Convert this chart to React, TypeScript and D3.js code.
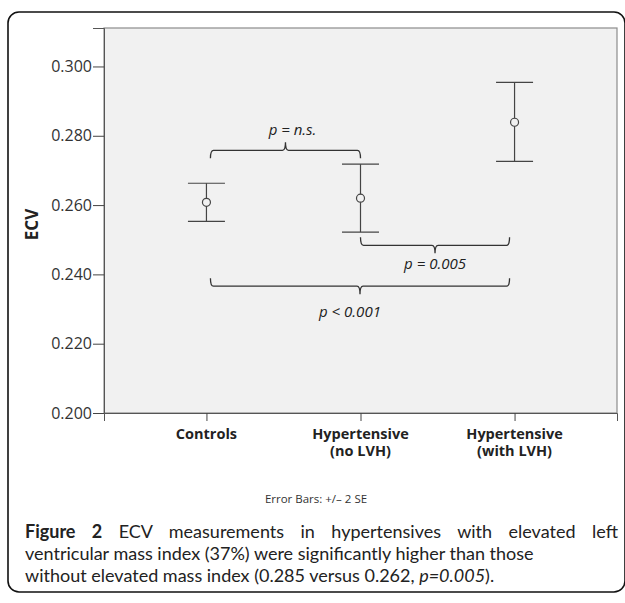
import React, { useEffect, useRef } from 'react';
import * as d3 from 'd3';

// groups on the x axis (label lines)
const categories = ['Controls', 'Hypertensive (no LVH)', 'Hypertensive (with LVH)'];
const categoryLines = [['Controls'], ['Hypertensive', '(no LVH)'], ['Hypertensive', '(with LVH)']];

// mean ECV and +/- 2 SE limits
const means = [0.2608, 0.262, 0.2839];
const lower = [0.2553, 0.2522, 0.2726];
const upper = [0.2663, 0.2718, 0.2954];

const yTicks = [0.2, 0.22, 0.24, 0.26, 0.28, 0.3];

// significance brackets: from group, to group, level (ECV units), label, ends hanging down?
const bracketFrom = [0, 1, 0];
const bracketTo = [1, 2, 2];
const bracketLevel = [0.2758, 0.2484, 0.2366];
const bracketLabel = ['p = n.s.', 'p = 0.005', 'p < 0.001'];
const bracketDown = [true, false, false];

const W = 625;
const H = 603;

const App = () => {
  const svgRef = useRef(null);

  useEffect(() => {
    const svg = d3.select(svgRef.current);
    svg.selectAll('*').remove();

    const left = 104, right = 617, top = 28, bottom = 413;
    const font = "'Open Sans', sans-serif";
    const capFamily = "Lato, 'Open Sans', sans-serif";

    // outer frame
    svg.append('rect')
      .attr('x', 8).attr('y', 12)
      .attr('width', 617).attr('height', 580)
      .attr('rx', 11)
      .attr('fill', 'white')
      .attr('stroke', '#111')
      .attr('stroke-width', 1.6);

    const y = d3.scaleLinear().domain([0.2, 0.3111]).range([bottom, top]);
    const x = d3.scalePoint().domain(categories).range([left, right]).padding(0.665);

    svg.append('rect')
      .attr('x', left).attr('y', top)
      .attr('width', right - left).attr('height', bottom - top)
      .attr('fill', '#f1f1f1')
      .attr('stroke', '#8c8c8c')
      .attr('stroke-width', 1.2);

    // y axis
    svg.append('g')
      .attr('transform', `translate(${left},0)`)
      .call(d3.axisLeft(y).tickValues(yTicks).tickFormat(d3.format('.3f')).tickSize(11).tickPadding(1))
      .call(g => g.select('.domain').attr('stroke', '#555'))
      .call(g => g.selectAll('.tick line').attr('stroke', '#444'))
      .call(g => g.selectAll('.tick text')
        .attr('fill', '#333')
        .style('font-family', font)
        .style('font-size', '16px'));

    svg.append('text')
      .attr('transform', `translate(38,${(top + bottom) / 2 + 4}) rotate(-90)`)
      .attr('text-anchor', 'middle')
      .attr('font-family', font)
      .attr('font-weight', 'bold')
      .attr('font-size', 17)
      .attr('fill', '#222')
      .text('ECV');

    // x axis
    svg.append('g')
      .attr('transform', `translate(0,${bottom})`)
      .call(d3.axisBottom(x).tickSize(8).tickFormat(() => ''))
      .call(g => g.select('.domain').attr('stroke', '#555'))
      .call(g => g.selectAll('.tick line').attr('stroke', '#444'));

    categories.forEach((c, i) => {
      categoryLines[i].forEach((line, j) => {
        svg.append('text')
          .attr('x', x(c))
          .attr('y', bottom + 26 + j * 17)
          .attr('text-anchor', 'middle')
          .attr('font-family', font)
          .attr('font-weight', 'bold')
          .attr('font-size', 14.5)
          .attr('fill', '#222')
          .text(line);
      });
    });

    // error bars
    const bars = svg.append('g').attr('stroke', '#444').attr('stroke-width', 1.2).attr('fill', 'none');
    categories.forEach((c, i) => {
      const cx = x(c);
      bars.append('line').attr('x1', cx).attr('x2', cx).attr('y1', y(lower[i])).attr('y2', y(upper[i]));
      bars.append('line').attr('x1', cx - 18.5).attr('x2', cx + 18.5).attr('y1', y(upper[i])).attr('y2', y(upper[i]));
      bars.append('line').attr('x1', cx - 18.5).attr('x2', cx + 18.5).attr('y1', y(lower[i])).attr('y2', y(lower[i]));
      bars.append('circle').attr('cx', cx).attr('cy', y(means[i])).attr('r', 4).attr('fill', '#f1f1f1');
    });

    // brackets
    const labelShift = [7, 0, -10];
    const labelGap = [-15, 24, 31];
    const br = svg.append('g');
    bracketLabel.forEach((lab, i) => {
      const a = bracketFrom[i], b = bracketTo[i];
      const x1 = x(categories[a]) + (a === 0 ? 4 : 0);
      const x2 = x(categories[b]) - (b === 2 ? 5 : 0);
      const xm = (x1 + x2) / 2;
      const ly = y(bracketLevel[i]);
      const d = bracketDown[i] ? 1 : -1;
      const e = 8, r = 3;
      const p = d3.path();
      p.moveTo(x1, ly + d * e);
      p.quadraticCurveTo(x1, ly, x1 + r, ly);
      p.lineTo(xm - r, ly);
      p.quadraticCurveTo(xm, ly, xm, ly - d * e);
      p.moveTo(xm, ly - d * e);
      p.quadraticCurveTo(xm, ly, xm + r, ly);
      p.lineTo(x2 - r, ly);
      p.quadraticCurveTo(x2, ly, x2, ly + d * e);
      br.append('path')
        .attr('d', p.toString())
        .attr('fill', 'none')
        .attr('stroke', '#333')
        .attr('stroke-width', 1.3);
      br.append('text')
        .attr('x', xm + labelShift[i])
        .attr('y', ly + labelGap[i])
        .attr('text-anchor', 'middle')
        .attr('font-family', font)
        .attr('font-style', 'italic')
        .attr('font-size', 15)
        .attr('fill', '#222')
        .text(lab);
    });

    svg.append('text')
      .attr('x', 316)
      .attr('y', 503)
      .attr('text-anchor', 'middle')
      .attr('font-family', font)
      .attr('font-size', 11.5)
      .attr('fill', '#333')
      .text('Error Bars: +/\u2013 2 SE');

    // caption, first line justified to the frame
    const capFont = 18;
    const l1 = svg.append('text')
      .attr('x', 25).attr('y', 538)
      .attr('font-family', capFamily)
      .attr('font-size', capFont)
      .attr('fill', '#222');
    l1.append('tspan').attr('font-weight', 'bold').text('Figure 2');
    l1.append('tspan').text(' ECV measurements in hypertensives with elevated left');
    const node = l1.node() as SVGTextElement;
    const len = node.getComputedTextLength();
    l1.attr('word-spacing', Math.max(0, (593 - len) / 8));

    svg.append('text')
      .attr('x', 25).attr('y', 560)
      .attr('font-family', capFamily)
      .attr('font-size', capFont)
      .attr('fill', '#222')
      .text('ventricular mass index (37%) were significantly higher than those');
    const l3 = svg.append('text')
      .attr('x', 25).attr('y', 582)
      .attr('font-family', capFamily)
      .attr('font-size', capFont)
      .attr('fill', '#222');
    l3.append('tspan').text('without elevated mass index (0.285 versus 0.262, ');
    l3.append('tspan').attr('font-style', 'italic').text('p=0.005');
    l3.append('tspan').text(').');
  }, []);

  return (
    <svg ref={svgRef} width={W} height={H} viewBox={`0 0 ${W} ${H}`}
      style={{ position: 'absolute', left: 0, top: 0 }} />
  );
};

export default App;
